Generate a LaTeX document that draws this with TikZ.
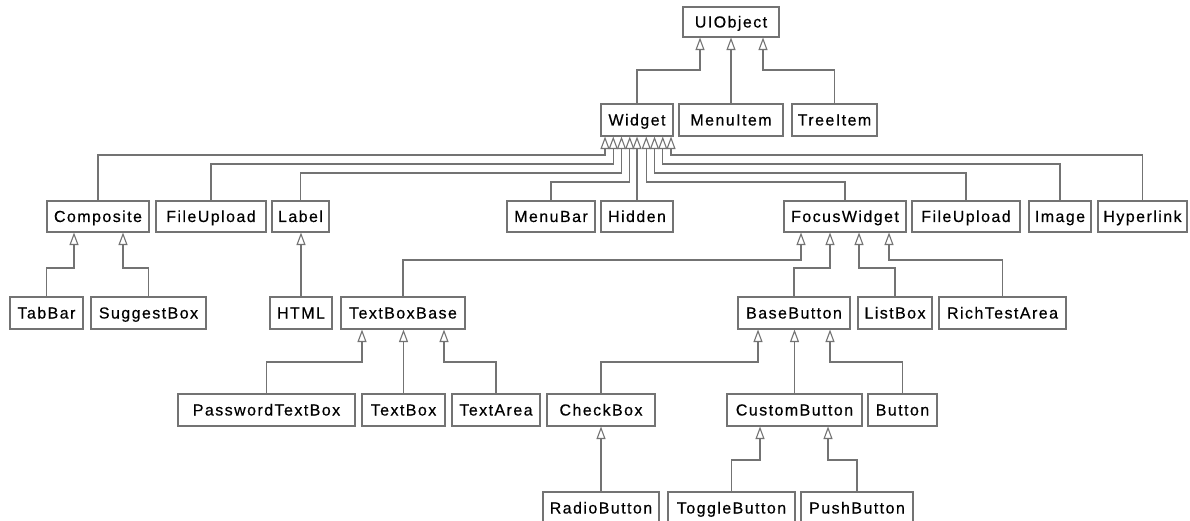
\documentclass[tikz,border=0pt]{standalone}
\usepackage{fontspec}
\newfontfamily\boxfont{Liberation Sans}[LetterSpace=9,FakeBold=0.4]
\usetikzlibrary{arrows.meta}
\begin{document}
\begin{tikzpicture}[x=1pt,y=-1pt,
  cls/.style={draw=black!55, line width=1.1pt, inner sep=0pt, fill=white,
    text height=14pt, text depth=3pt,
    font={\boxfont\fontsize{16}{18}\selectfont}, text=black},
  inh/.style={draw=black!55, line width=1.1pt,
    -{Triangle[open, width=9pt, length=12.5pt]}}]
\useasboundingbox (0,0) rectangle (1190,521);
\clip (0,0) rectangle (1190,521);
% row 0
\node[cls, minimum width=96pt, minimum height=30pt] (uiobject) at (731,22) {UIObject};
% row 1
\node[cls, minimum width=72pt, minimum height=32pt] (widget) at (637,120) {Widget};
\node[cls, minimum width=104pt, minimum height=32pt] (menuitem) at (731,120) {MenuItem};
\node[cls, minimum width=85pt, minimum height=32pt] (treeitem) at (834.5,120) {TreeItem};
% row 2
\node[cls, minimum width=102pt, minimum height=31pt] (composite) at (98,216.5) {Composite};
\node[cls, minimum width=110pt, minimum height=31pt] (fileupload) at (211,216.5) {FileUpload};
\node[cls, minimum width=57pt, minimum height=31pt] (label) at (300.5,216.5) {Label};
\node[cls, minimum width=88pt, minimum height=31pt] (menubar) at (551,216.5) {MenuBar};
\node[cls, minimum width=72pt, minimum height=31pt] (hidden) at (637,216.5) {Hidden};
\node[cls, minimum width=122pt, minimum height=31pt] (focuswidget) at (845,216.5) {FocusWidget};
\node[cls, minimum width=108pt, minimum height=31pt] (fileuploadb) at (966,216.5) {FileUpload};
\node[cls, minimum width=62pt, minimum height=31pt] (image) at (1060,216.5) {Image};
\node[cls, minimum width=89pt, minimum height=31pt] (hyperlink) at (1142.5,216.5) {Hyperlink};
% row 3
\node[cls, minimum width=73pt, minimum height=32pt] (tabbar) at (46.5,313) {TabBar};
\node[cls, minimum width=115pt, minimum height=32pt] (suggestbox) at (148.5,313) {SuggestBox};
\node[cls, minimum width=62pt, minimum height=32pt] (html) at (301,313) {HTML};
\node[cls, minimum width=124pt, minimum height=32pt] (textboxbase) at (403,313) {TextBoxBase};
\node[cls, minimum width=112pt, minimum height=32pt] (basebutton) at (794,313) {BaseButton};
\node[cls, minimum width=74pt, minimum height=32pt] (listbox) at (895,313) {ListBox};
\node[cls, minimum width=127pt, minimum height=32pt] (richtestarea) at (1002.5,313) {RichTestArea};
% row 4
\node[cls, minimum width=177pt, minimum height=32pt] (passwordtextbox) at (266.5,410) {PasswordTextBox};
\node[cls, minimum width=83pt, minimum height=32pt] (textbox) at (403.5,410) {TextBox};
\node[cls, minimum width=88pt, minimum height=32pt] (textarea) at (496,410) {TextArea};
\node[cls, minimum width=108pt, minimum height=32pt] (checkbox) at (601,410) {CheckBox};
\node[cls, minimum width=135pt, minimum height=32pt] (custombutton) at (794.5,410) {CustomButton};
\node[cls, minimum width=69pt, minimum height=32pt] (button) at (902.5,410) {Button};
% row 5
\node[cls, minimum width=116pt, minimum height=32pt] (radiobutton) at (601,508) {RadioButton};
\node[cls, minimum width=127pt, minimum height=32pt] (togglebutton) at (731.5,508) {ToggleButton};
\node[cls, minimum width=112pt, minimum height=32pt] (pushbutton) at (857,508) {PushButton};
% connectors UIObject
\draw[inh] (widget.north) |- (700,70) -- (700,0 |- uiobject.south);
\draw[inh] (menuitem.north) -- (menuitem.north |- uiobject.south);
\draw[inh] (treeitem.north) |- (763,70) -- (763,0 |- uiobject.south);
% connectors Widget
\draw[inh] (composite.north) |- (605,155) -- (605,0 |- widget.south);
\draw[inh] (fileupload.north) |- (613.25,164) -- (613.25,0 |- widget.south);
\draw[inh] (label.north) |- (621.5,173) -- (621.5,0 |- widget.south);
\draw[inh] (menubar.north) |- (629.75,182) -- (629.75,0 |- widget.south);
\draw[inh] (hidden.north) -- (hidden.north |- widget.south);
\draw[inh] (focuswidget.north) |- (646.25,182) -- (646.25,0 |- widget.south);
\draw[inh] (fileuploadb.north) |- (654.5,173) -- (654.5,0 |- widget.south);
\draw[inh] (image.north) |- (662.75,164) -- (662.75,0 |- widget.south);
\draw[inh] (hyperlink.north) |- (671,155) -- (671,0 |- widget.south);
% Composite
\draw[inh] (tabbar.north) |- (74,268) -- (74,0 |- composite.south);
\draw[inh] (suggestbox.north) |- (123,268) -- (123,0 |- composite.south);
% Label
\draw[inh] (html.north) -- (html.north |- label.south);
% FocusWidget
\draw[inh] (textboxbase.north) |- (801,260) -- (801,0 |- focuswidget.south);
\draw[inh] (basebutton.north) |- (830,268) -- (830,0 |- focuswidget.south);
\draw[inh] (listbox.north) |- (859,268) -- (859,0 |- focuswidget.south);
\draw[inh] (richtestarea.north) |- (889,260) -- (889,0 |- focuswidget.south);
% TextBoxBase
\draw[inh] (passwordtextbox.north) |- (362,362) -- (362,0 |- textboxbase.south);
\draw[inh] (textbox.north) -- (textbox.north |- textboxbase.south);
\draw[inh] (textarea.north) |- (444,362) -- (444,0 |- textboxbase.south);
% BaseButton
\draw[inh] (checkbox.north) |- (758,362) -- (758,0 |- basebutton.south);
\draw[inh] (custombutton.north) -- (custombutton.north |- basebutton.south);
\draw[inh] (button.north) |- (830,362) -- (830,0 |- basebutton.south);
% CheckBox
\draw[inh] (radiobutton.north) -- (radiobutton.north |- checkbox.south);
% CustomButton
\draw[inh] (togglebutton.north) |- (760,460) -- (760,0 |- custombutton.south);
\draw[inh] (pushbutton.north) |- (828,460) -- (828,0 |- custombutton.south);
\end{tikzpicture}
\end{document}
